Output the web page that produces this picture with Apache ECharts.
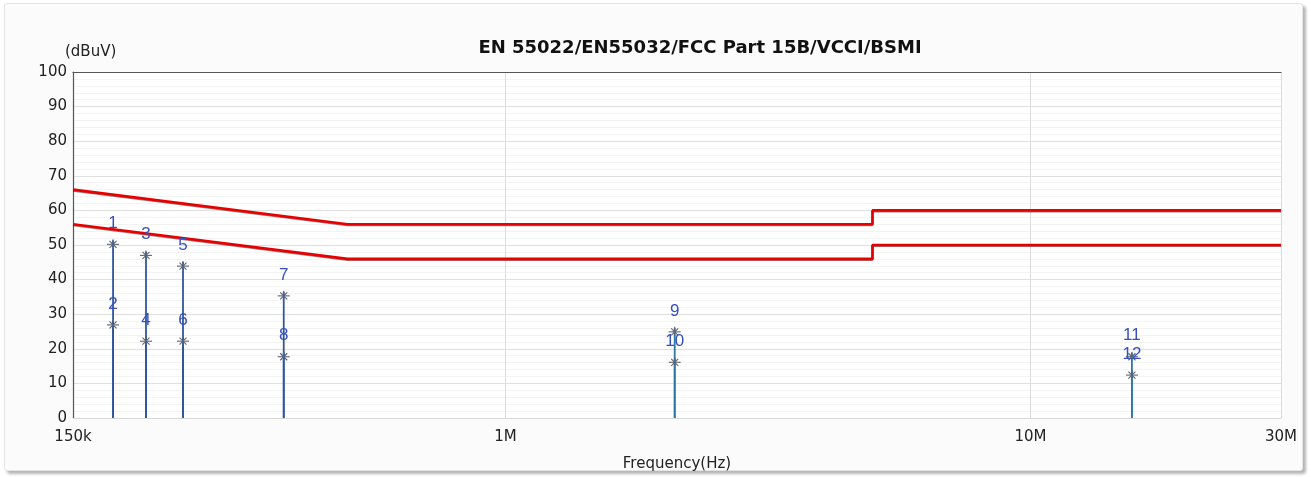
<!DOCTYPE html>
<html><head><meta charset="utf-8">
<script src="https://cdn.jsdelivr.net/npm/echarts@6/dist/echarts.min.js"></script>
<style>
html,body{margin:0;padding:0;background:#ffffff;overflow:hidden;}
#panel{position:absolute;left:4px;top:3px;width:1297px;height:466px;background:#fbfbfb;border:1px solid #e4e4e4;border-radius:3px;box-shadow:3px 3px 3px #b5b5b5;}
#chart{position:absolute;left:0;top:0;width:1315px;height:477px;}
</style></head><body>
<div id="panel"></div><div id="chart"></div>
<script>
// ---- data ----
const chartTitle = 'EN 55022/EN55032/FCC Part 15B/VCCI/BSMI';
const yUnit = '(dBuV)';
const xName = 'Frequency(Hz)';
const xTickValues = [150000, 1000000, 10000000, 30000000];
const xTickLabels = ['150k', '1M', '10M', '30M'];
const limitQPFreq  = [150000, 500000, 5000000, 5000000, 30000000];
const limitQPLevel = [66, 56, 56, 60, 60];
const limitAVFreq  = [150000, 500000, 5000000, 5000000, 30000000];
const limitAVLevel = [56, 46, 46, 50, 50];
const markerIds   = ['1','2','3','4','5','6','7','8','9','10','11','12'];
const markerFreq  = [178800, 178800, 206600, 206600, 243000, 243000, 378000, 378000, 2100000, 2100000, 15600000, 15600000];
const markerLevel = [50.2, 26.9, 47.0, 22.2, 43.9, 22.2, 35.3, 17.7, 24.9, 16.1, 17.7, 12.4];

// ---- chart ----
const chart = echarts.init(document.getElementById('chart'), null, {renderer: 'canvas'});
const FONT = '"DejaVu Sans", Verdana, sans-serif';
const LABEL_FONT = '"Liberation Sans", Arial, sans-serif';

function zip(a, b) { return a.map((v, i) => [v, b[i]]); }

function renderMarker(params, api) {
  const f = api.value(0), v = api.value(1);
  const idx = params.dataIndex;
  const base = api.coord([f, 0]);
  const p = api.coord([f, v]);
  const stemColor = f > 1000000 ? '#2a7aa3' : '#2f569e';
  const ac = '#5a6478';
  const x = p[0], y = p[1];
  return {
    type: 'group',
    children: [
      {type: 'line', shape: {x1: base[0], y1: base[1], x2: x, y2: y - 4}, style: {stroke: stemColor, lineWidth: 1.8}},
      {type: 'line', shape: {x1: x - 6, y1: y, x2: x + 6, y2: y}, style: {stroke: ac, lineWidth: 1.1}},
      {type: 'line', shape: {x1: x, y1: y - 5, x2: x, y2: y + 4}, style: {stroke: ac, lineWidth: 1.1}},
      {type: 'line', shape: {x1: x - 3.5, y1: y - 3.5, x2: x + 3.5, y2: y + 3.5}, style: {stroke: ac, lineWidth: 1.1}},
      {type: 'line', shape: {x1: x - 3.5, y1: y + 3.5, x2: x + 3.5, y2: y - 3.5}, style: {stroke: ac, lineWidth: 1.1}},
      {type: 'text', style: {text: markerIds[idx], x: x, y: y - 21, align: 'center', verticalAlign: 'middle',
        fill: '#3650c0', font: '17px ' + LABEL_FONT}}
    ]
  };
}

const xAxisBase = {
  type: 'log', logBase: 10, min: xTickValues[0], max: xTickValues[xTickValues.length - 1]
};

const option = {
  backgroundColor: 'transparent',
  animation: false,
  title: {
    text: chartTitle, left: 695, top: 34, textAlign: 'center',
    textStyle: {fontFamily: FONT, fontWeight: 'bold', fontSize: 18, color: '#111'}
  },
  graphic: [{
    type: 'text', left: 65, top: 45,
    style: {text: yUnit, font: '15px ' + FONT, fill: '#222'}
  }],
  grid: {left: 73, right: 34, top: 72, bottom: 59, show: true, backgroundColor: '#ffffff', borderWidth: 0},
  xAxis: [
    Object.assign({}, xAxisBase, {
      position: 'bottom',
      name: xName, nameLocation: 'middle', nameGap: 39,
      nameTextStyle: {fontFamily: FONT, fontSize: 15, color: '#222'},
      axisLine: {show: true, lineStyle: {color: '#d8d8d8', width: 1}},
      axisTick: {show: false},
      axisLabel: {
        show: true, margin: 12, fontFamily: FONT, fontSize: 15, color: '#222',
        showMinLabel: true, showMaxLabel: true,
        formatter: function (val) {
          for (let i = 0; i < xTickValues.length; i++) {
            if (Math.abs(val - xTickValues[i]) / xTickValues[i] < 1e-6) return xTickLabels[i];
          }
          return '';
        }
      },
      splitLine: {show: true, lineStyle: {color: '#dcdcdc', width: 1}}
    }),
    Object.assign({}, xAxisBase, {
      position: 'top',
      axisLine: {show: true, lineStyle: {color: '#555', width: 1.2}},
      axisTick: {show: false}, axisLabel: {show: false}, splitLine: {show: false}
    })
  ],
  yAxis: {
    type: 'value', min: 0, max: 100, interval: 10,
    axisLine: {show: true, lineStyle: {color: '#555', width: 1.2}},
    axisTick: {show: false},
    axisLabel: {margin: 6, fontFamily: FONT, fontSize: 15, color: '#222'},
    splitLine: {show: true, lineStyle: {color: '#e0e0e0', width: 1}},
    minorTick: {show: false, splitNumber: 5},
    minorSplitLine: {show: true, lineStyle: {color: '#f3f3f3', width: 1}}
  },
  series: [
    {
      name: 'QP Limit', type: 'line', xAxisIndex: 0, data: zip(limitQPFreq, limitQPLevel),
      showSymbol: false, symbol: 'none',
      lineStyle: {color: '#e80000', width: 2.6, shadowColor: 'rgba(90,0,0,0.55)', shadowOffsetY: 0.8, shadowBlur: 0},
      z: 3
    },
    {
      name: 'AV Limit', type: 'line', xAxisIndex: 0, data: zip(limitAVFreq, limitAVLevel),
      showSymbol: false, symbol: 'none',
      lineStyle: {color: '#e80000', width: 2.6, shadowColor: 'rgba(90,0,0,0.55)', shadowOffsetY: 0.8, shadowBlur: 0},
      z: 3
    },
    {
      name: 'Markers', type: 'custom', xAxisIndex: 0, data: zip(markerFreq, markerLevel),
      renderItem: renderMarker, clip: true, z: 4
    }
  ]
};
chart.setOption(option);
</script>
</body></html>
